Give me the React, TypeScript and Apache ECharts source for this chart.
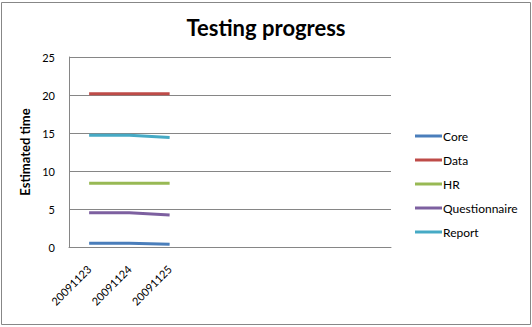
import React, { useEffect, useRef } from "react";
import * as echarts from "echarts";

const categories = ["20091123", "20091124", "20091125", "", "", "", "", ""];
const seriesNames = ["Core", "Data", "HR", "Questionnaire", "Report"];
const core = [0.5, 0.5, 0.35];
const dataVals = [20.15, 20.15, 20.15];
const hr = [8.4, 8.4, 8.4];
const questionnaire = [4.5, 4.5, 4.2];
const report = [14.7, 14.7, 14.4];
const colors = ["#4A7EBB", "#BE4B48", "#98B954", "#7D60A0", "#46AAC5"];
const yTicks = [0, 5, 10, 15, 20, 25];

export default function App() {
  const ref = useRef<HTMLDivElement>(null);
  useEffect(() => {
    if (!ref.current) return;
    const chart = echarts.init(ref.current, undefined, { renderer: "svg" });
    const values = [core, dataVals, hr, questionnaire, report];
    const font = "Lato";
    chart.setOption({
      animation: false,
      backgroundColor: "#ffffff",
      title: {
        text: "Testing progress",
        left: "center",
        top: 11,
        textStyle: { fontFamily: font, fontSize: 22, fontWeight: "bold", color: "#000" },
      },
      graphic: [
        {
          type: "rect",
          shape: { x: 1.5, y: 2.5, width: 529, height: 322 },
          style: { fill: "none", stroke: "#878787", lineWidth: 1 },
          silent: true,
        },
      ],
      legend: {
        orient: "vertical",
        left: 410,
        top: 125,
        itemWidth: 27,
        itemHeight: 3,
        itemGap: 12,
        data: seriesNames.map((n) => ({ name: n, icon: "rect" })),
        textStyle: { fontFamily: font, fontSize: 12, color: "#000", padding: [0, 0, 0, -4] },
      },
      grid: { left: 69, right: 141, top: 57, bottom: 80, containLabel: false },
      xAxis: {
        type: "category",
        data: categories,
        boundaryGap: true,
        axisLine: { show: true, lineStyle: { color: "#868686", width: 1 } },
        axisTick: { show: false },
        axisLabel: {
          rotate: 45,
          margin: 20,
          interval: 0,
          fontFamily: font,
          fontSize: 11,
          color: "#000",
        },
      },
      yAxis: {
        type: "value",
        min: 0,
        max: 25,
        interval: 5,
        name: "Estimated time",
        nameLocation: "middle",
        nameGap: 35,
        nameRotate: 90,
        nameTextStyle: { fontFamily: font, fontSize: 13, fontWeight: "bold", color: "#000" },
        axisLine: { show: true, lineStyle: { color: "#868686", width: 1 } },
        axisTick: { show: false },
        splitLine: { show: true, lineStyle: { color: "#868686", width: 1 } },
        axisLabel: {
          margin: 14,
          fontFamily: font,
          fontSize: 11,
          color: "#000",
          formatter: (v: number) => (yTicks.includes(v) ? String(v) : ""),
        },
      },
      series: seriesNames.map((name, i) => ({
        name,
        type: "line",
        data: values[i],
        symbol: "none",
        color: colors[i],
        itemStyle: { color: colors[i] },
        lineStyle: { width: 3, color: colors[i] },
      })),
    });
    return () => chart.dispose();
  }, []);
  return (
    <div
      ref={ref}
      style={{ position: "absolute", left: 0, top: 0, width: 532, height: 327 }}
    />
  );
}
